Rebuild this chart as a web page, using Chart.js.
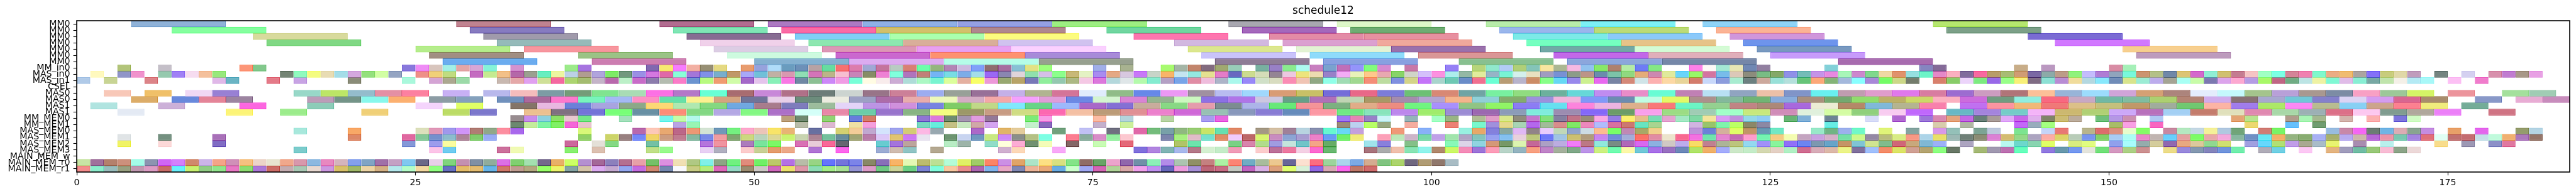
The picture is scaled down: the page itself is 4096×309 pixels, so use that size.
<!DOCTYPE html>
<html><head><meta charset="utf-8">
<style>html,body{margin:0;padding:0;background:#fff}canvas{display:block}</style>
<script src="https://cdn.jsdelivr.net/npm/chart.js@4"></script>
</head><body><canvas id="c" width="4096" height="309"></canvas>
<script>
const rowNames=["MM0","MM0","MM0","MM0","MM0","MM0","MM0","MM_in0","MAS_in0","MAS_in1","CSEL","MAS0","MAS0","MAS1","MAS1","MM_MEM0","MM_MEM1","MAS_MEM0","MAS_MEM1","MAS_MEM2","MAS_MEM3","MAIN_MEM_w","MAIN_MEM_r0","MAIN_MEM_r1"];
const durations=[7,7,7,7,7,7,7,1,1,1,1,2,2,2,2,1,1,1,1,1,1,1,1,1];
const xTicks=[0,25,50,75,100,125,150,175];
const starts0=[4,28,43,51,58,65,72,85,93,104,111,120,137];
const colors0="8fb2d8 c08390 b26c90 ac79c2 8fb0e6 95a0e3 9dee82 a8a7b0 ddf7c8 b8ecaa 7cf0f5 8fd3f7 b5e66e".split(" ");
const starts1=[7,29,44,52,59,66,76,86,94,105,112,121,138];
const colors1="85ff9f 877bc0 80e6b5 fa6ba5 d3c06b b0888e 70d6a0 a468bc 6fac73 9ab6ec bcdb77 fbb395 7ca088".split(" ");
const starts2=[13,30,45,53,60,67,78,88,95,106,113,122,144];
const colors2="d8da9d a09aab 876c92 80cff5 aaffae fcfc7e fe75ae e38ba6 e790a0 7ceae7 8bc9fa d096db 7a6bd3".split(" ");
const starts3=[14,31,46,54,61,68,81,89,96,107,114,123,146];
const colors3="80d884 95bab9 f0d1ea 8de7b0 d9ae9a d0c2ef d2b8e0 dba0d0 f0a89c 75ffc0 e6c388 6e94ec d178ff".split(" ");
const starts4=[25,33,47,55,62,69,82,90,97,108,115,124,151];
const colors4="b5ed8c f7969e dccde4 dc97b6 e8a0f0 fad1ff dce78e e3f3d4 9a71ac 72a9a6 d4fbd5 7899c0 f7cf8f".split(" ");
const starts5=[26,37,48,56,63,70,83,91,99,109,116,125,152];
const colors5="a18e82 9ac385 cdfadf ca68ce fe916f a78ad8 c9c3fb 8edbfb da9696 c268e8 e0aeba c79bfb bd9bbd".split(" ");
const starts6=[27,38,50,57,64,71,84,92,102,110,117,130];
const colors6="6bacef cc7db0 84b0d0 dcabf0 b5fde8 97a08f 8e7c96 88a0e0 88c090 8ca6dc 7587a8 a76bae".split(" ");
const starts7=[3,6,12,13,24,25,26,27,28,29,30,32,36,37,42,43,44,45,46,47,49,50,51,52,53,54,55,56,57,58,59,60,61,62,63,64,65,66,67,68,69,70,71,75,77,80,81,82,83,84,85,87,88,89,90,91,92,93,94,95,96,98,101,103,104,105,106,107,108,109,110,111,112,113,114,115,116,119,120,121,122,123,124,129,136,137,143,145,150,151];
const colors7="b2c47a c4bfc8 fc9678 82c88c 8878dc ee8cf5 d8c5bd a3efe6 e3a6a6 d8a6d6 85f3d8 d492cf 9cea8a a674e0 8168b0 f7e970 f77cff f2b0a3 978f74 e5d983 e89c6e 97a2dc b0dcf9 6a9cbe 6d90b8 b7a2a4 67dca0 f77070 dc7cac a0a8d4 c4749c b8cbc2 d88074 6dfeaa 94b57e b285b5 ccbbe0 80a0f8 8f6f70 a670a0 88c0d4 e2e284 9cff7c a0aee8 a8b290 a8fa70 a4b5a6 c2856c 826a7e a0a870 98ccb8 78b0a0 9880c6 8aeb8e adfbef c87fbf 7aa2ce c06fb8 9494fa 82fc7c d68ad0 c878a8 9580f5 b6d57a 90e8cc b2ccf5 b0cf78 84c4b8 f8e6a0 abb793 f6b9e2 92c2ee 88e868 ae816e b5eba5 6e7cf5 84e884 fc80e8 fcf9f6 a4e8d4 e8e6b4 7088b4 917fa0 82d0d8 8585c0 846a98 c8ad88 ba98c0 d88ca4 a5f0b8".split(" ");
const starts8=[1,3,4,6,7,8,9,10,15,16,17,18,19,20,21,22,23,25,26,27,29,30,31,32,33,34,35,36,37,38,39,40,41,42,43,44,45,46,47,48,49,50,51,52,53,54,55,56,57,58,59,60,61,62,63,64,65,66,67,68,69,70,71,72,73,74,75,76,77,78,79,80,81,82,83,84,85,86,87,88,89,90,91,92,93,94,95,96,97,98,99,100,101,102,103,104,105,106,107,108,109,110,111,112,113,114,115,116,117,118,119,120,121,122,123,124,125,126,127,128,129,130,131,132,133,134,135,136,137,138,139,140,141,142,143,144,145,146,147,148,149,150,151,152,153,154,155,156,157,158,159,160,161,162,163,164,165,166,167,168,169,170,171,172,174,176,178,179,180,181];
const colors8="fff9be 9095c8 f092cc 95c9ae a080f5 f6dcf0 f4c09c 98e87c 748474 90fabe f4fc80 e8dcb4 a4dde8 d4a8de 94e07c d2ffa4 94a4c2 ee9088 f0d078 c0dc80 c46cc0 c4ea90 f2c088 b468a8 9ba090 68eec0 ecf6a0 bcd0e6 b09c90 b0a4dc 7eea64 72987e 9a90e4 d478e0 e068a8 88ffd8 a476d8 8090e8 78aecc c09868 a8a8f8 70c0d8 c0b0a4 d898b0 90deb4 d474b8 bcb488 f6bfd0 c884b8 868c60 ee80d4 80ffdc b074bc c08078 74b4f4 78dce4 7cace8 a4dde8 9a68f4 8a86b0 e0d4da 90e0ac d4c0e8 8cff8c c8b878 e4f2c4 a88cf0 e4a884 d8c8e0 c878f8 c8d4c8 f8b468 c4e4f0 94e8e0 e4e090 e47cc8 6868c0 ccdc90 d4dcb8 948494 ecc8e0 ece47c ecdcb0 9880c8 f4acf5 e8f2b8 fec88c e8a8b0 88d468 d0d4c8 d4c0fa fc90e0 aceeec 94b8a4 e0ec9c 96b4c6 78f4d4 d4f0ec e8e0c0 a09cc0 7890d4 8c9c88 bc9488 6a8cac 7cc4a8 90d880 e4ac78 cc88b0 e0ea9c 68d4fb 98f868 d474a0 78bcea dcc8b8 8c8c7c 78bc84 84a868 9090e8 74bcb8 c494e8 e888e0 a8f6b8 cc88cc 80d88c f0d8a4 e0926c 96e0e0 6cf4c8 e488c8 fbb0c0 806c9c f868a0 b89c68 a8bc74 d09c74 7a68a4 8caaa8 bc9c88 90f27c c4bcfc b07cd4 90a4bc 78f8dc cc9470 b4c088 7088a8 dcc474 d468cc 90eed4 d0c070 c47c90 f5c4c4 a0ffc4 7cffe4 d48498 f080b0 80f8cc ecac84 f0bc70 aca4a0 8470f8 c8cc7c e0d8a8 c09cbc 748480 d4d0f0 d890ac c07cd0 a89888 e8a0e4".split(" ");
const starts9=[0,2,5,10,11,14,16,20,24,26,27,28,31,32,33,34,35,36,37,38,39,40,41,42,43,44,45,46,47,48,49,50,51,52,53,54,55,56,57,58,59,60,61,62,63,64,65,66,67,68,69,70,71,72,73,74,75,76,77,78,79,80,81,82,83,84,85,86,87,88,89,90,91,92,93,94,95,96,97,98,99,100,101,102,103,104,105,106,107,108,109,110,111,112,113,114,115,116,117,118,119,120,121,122,123,124,125,126,127,128,129,130,131,132,133,134,135,137,138,139,140,141,142,143,144,145,146,147,148,149,150,151,152,153,154,155,156,157,158,159,160,161,162,163,164,165,166,167,168,169,170,171,172,173,175,177];
const colors9="b0cae8 c8d494 dc8488 e0b8e8 6ab4c4 e47a88 c8a4e4 8a8c78 aaf8dc d4a4d4 aca890 9cdaa8 c8b8b0 e4a8a8 e0a0f0 cfe098 f468a0 acd470 a4bc70 c4b4c8 b868ac bcf0c8 c86cc8 8c7cac b4bcb0 fa7cc8 6c94d0 b8fa80 f09c70 d0fca8 a468c8 e4c4ec 88f0b8 f878e4 7088a4 8cc094 cc88f8 f09ce4 78ffd8 fffce4 f8ecec ccacd4 aedcd8 acf8c4 78f4d0 dcfe9c e4b0a0 f8ff68 ec98d8 98a870 b8a468 7878b8 90ee9c 94c8b0 acb884 f4c8e4 dc78dc b4d8dc dfe6e8 b4faac 84ecd0 b4a0c4 78a4e8 e08ca4 eebcdc acb4c8 aaf8ec 9888f8 d0e0c8 d8dcc0 fa8cb4 f0c4b4 90a884 90ffe8 a0dcb4 a0d890 f48e78 bcdca0 8090e0 d4d488 c474f8 a8d4cc 6ec8b4 6a8cc8 f07090 6cffd4 b89c74 b8b4cc cc8c60 88ff88 64d8f4 9888ec ccf090 e868f0 7884a4 d48878 d0e4e8 fcb0b0 fcd8a4 e8d498 d47c6c c8d8fa 8c9cdc a8ecd0 6c8080 cca89c 98e0d8 b4e0dc 64c478 fca878 84b478 a4b8dc 88ffff a888d8 74fc60 ccd888 747c6c d8806c 88cc68 ecd4fa 7cea80 9868e8 98ff88 f8f078 806c84 8ce0d4 b88cd4 f0dc9c b4d8e0 88e8fc 708cb8 d8e48c 9cecd4 bcacec a4a494 a8fff4 c8fca8 7c78b0 dca4ec fca8d0 b49ce4 a8f868 c06484 70ac84 bce4e4 eef2a4 80f8d4 e0bce8 88eed4 78a8a4 c0e4ac f4f0e8 b4eaf4 a8f8f8 fcc0f4 f07ccc".split(" ");
const starts10=[];
const colors10=[];
const starts11=[2,5,8,10,16,18,20,22,24,27,30,32,34,36,38,40,42,44,46,48,50,52,54,56,58,60,62,64,66,68,70,72,74,76,78,80,82,84,86,88,90,92,94,96,98,100,102,104,106,108,110,112,114,116,118,120,122,124,126,128,130,132,134,136,138,140,142,144,146,148,150,152,154,156,158,160,162,164,166,168,170,172,175,179,181];
const colors11="f8c8b8 f0c068 f0d8f4 9880d4 98d8c8 bce664 94bccc e490a4 fc80a0 c8b0f4 b8b8ec f4bcbc 7c9ca4 749c78 80e490 a8dcb4 fc70e4 b478c8 68ffd4 a86c70 c888d8 b07088 6c7c78 ccd4d0 987488 cc8098 9cacf0 98a098 987098 c4b0e8 b0b490 d47498 e0ecfc 90bc88 6488e8 ec98f4 a090a0 b8bcf0 a0d8fc d89c74 c8c064 746cd8 e86888 7c7cd8 6cc074 d88874 70a4a4 78f0a0 90dc80 6cb09c 64d8d8 c08cf0 e88cc8 68fcd4 c080b4 b8e0f4 90a4c0 ecc0a8 8094c8 68f0f0 c09cb0 e09ccc e078ec d87ca0 9c6cd0 cc9cc0 b07478 fcc098 98b4d8 9cdcfc d0a4d8 d4a074 ac847c e4ecfc c4f8fc a4c48c b8a0d8 a89890 7c8ca4 f8a0c4 9cc898 d4f464 ec949c a4e09c a0ccb4".split(" ");
const starts12=[4,7,9,11,17,19,21,23,26,28,31,33,35,37,39,41,43,45,47,49,51,53,55,57,59,61,63,65,67,69,71,73,75,77,79,81,83,85,87,89,91,93,95,97,99,101,103,105,107,109,111,113,115,117,119,121,123,125,127,129,131,133,135,137,139,141,143,145,147,149,151,153,155,157,159,161,163,165,167,169,171,173,177,180,182];
const colors12="dcac68 6888dc e48498 9c84a0 bc9cb8 749488 88f8ec fcb070 8c9ca4 84a0bc 7090bc ac689c fc78cc 78f4bc a4b8f4 fc90c4 64e0a8 fcf090 d4a480 707498 e8d0e8 6c8c7c ecece0 9ca0c4 ac6ca8 e8acac ecf8b8 d4acc4 f4a8a8 f4a0fc e09cd8 6c88e4 d4f4d0 d884d4 94b490 ccf8c0 8c70e4 b074e8 ccc8e0 60a088 b070b8 c0d4b4 a89860 a48cac b4a4d0 f4b48c 90d0d8 84ac6c 9c90dc f0b4dc 8098f8 6c8cb0 c0fce4 e4f860 ac908c 84b89c 70b474 88acdc a88f7c 74a870 90dc6c bcb068 ccd868 fcb0c0 cc6cdc 709c80 90eee0 f86880 c8a8c4 70b8a4 80bca0 acd070 b48474 d0acec 887074 a8a8d0 70c8d8 8480cc dcd4f4 d49cf0 d86090 a88c6c 8898c8 e8acd4 c88cbc".split(" ");
const starts13=[1,6,12,17,25,28,32,34,36,38,40,42,44,46,48,50,52,54,56,58,60,62,64,66,68,70,72,74,76,78,80,82,84,86,88,90,92,94,96,98,100,102,104,106,108,110,112,114,116,118,120,122,124,126,128,130,132,134,136,139,141,143,145,147,149,151,153,155,157,159,161,163,165,167,169,171,173,176];
const colors13="b0e4e0 ccb0d8 fc60e0 8cccb8 f4d4fc e0ff64 847468 e8b8e0 6c80d8 a8a4e0 8ca888 fcd874 b0e8b0 84d880 70a8e0 a87c8c 7e7cbc 9cbc9c e4d4f8 bc94e4 d090dc 7884e0 80cc60 c0d888 80e8fc 68d488 9cb8fc a868c8 8470d4 c8ac9c 88d884 e49cac 7c8c90 acb4e8 68e878 f49498 7cb080 e0ac88 ec8c80 70f480 a890fc 90c484 90f460 8c7cf4 60e0f0 fc84dc ecb4e0 dcb08c f87878 6cf4c4 94d090 c08484 ac8878 a868dc ececd4 b48868 80b8d8 b4b490 f880ac c070f0 fc94a0 f0b878 f07878 dcc088 c4c07c c09868 a0ac9c 70c870 fcb4a4 a07cec ace868 fc88f4 b8bc90 88d0f4 cca48c fc8090 f0ec7c 74ac98".split(" ");
const starts14=[3,11,15,21,27,29,33,35,37,39,41,43,45,47,49,51,53,55,57,59,61,63,65,67,69,71,73,75,77,79,81,83,85,87,89,91,93,95,97,99,101,103,105,107,109,111,113,115,117,119,121,123,125,127,129,131,133,135,138,140,142,144,146,148,150,152,154,156,158,160,162,164,166,168,170,172,174,178];
const colors14="e4eaf4 fcf478 9cec8c f0d078 bcdc64 7c78cc ecc090 807080 7474d8 78ff78 6890a4 fc8c78 84d884 b4a8e4 84f884 ac70c8 d4fff8 e888a8 6ccca8 9874cc 88b484 f4fc80 9c9868 c89c84 d0dc84 fc68b0 f4c0a4 bc9c78 e09094 ec80cc d068d8 98c0b4 8898bc 887cd4 648cbc fc98a4 70e884 88e4bc bc88ec a0ec6c 9c8cd4 9c68b0 8c9cb8 80ecdc 9c8cb0 8468f8 6c9c68 f8a0ec 9cdc84 a0ccb4 a0ffc8 c8e87c d08cb8 e0f0dc d4fca4 90d07c f8ccf0 c068fc 68b8c4 a484dc 74ccc8 f4b4f8 ccb870 b0d074 cca8f8 b870bc a4d0f4 c47c6c e0e0bc e088b0 a8d8a8 9cb0b4 dc7088 fcc8f0 809c90 b0a89c ec80f8 d07484".split(" ");
const starts15=[32,33,34,35,36,37,40,43,44,45,52,53,55,57,58,62,63,64,65,66,67,70,71,75,77,80,83,84,93,94,95,96,98,100,101,103,104,105,106,107,108,109,110,111,112,113,114,115,116,117,118,119,120,121,122,123,124,126,127,129,132,134,136,137,138,139,140,141,142,143,144,145,146,147,149,150,151,153,159,160,163,164,165,167,169,171,172];
const colors15="988c90 c88cec 8cd0e0 8ce064 e8c8d0 74e888 a4e0bc 74f4ec c4fca8 b4f8ec bca07c 708870 90d474 687cdc d47c68 9074d4 dc78dc 708c70 a494b0 e09ce0 947898 7ceb78 f89ce4 fcbca4 b4d4dc b8d4a4 a89cf0 e864e0 a078f4 e484b4 9880c8 ccf4f8 94b4b8 a4ffc4 98b484 b0bc94 e09cc8 d8e88c 908c7c c478cc 84e07c 8480a0 c07488 988c78 f8a8e4 947ce4 fcf070 e4c08c 78dcb4 e4a4d0 a4e8c4 80d8a4 f4e49c d89cf4 c090dc 94d8e8 90ccf4 68b474 80b0d8 6c8494 d8dcf8 b068d0 9c78d8 d888b0 e4a47c c468e4 688078 a89c98 e0a8f8 c868e8 e0b0ec 808468 ccbc74 bcac9c 70c07c b498e4 cc90b0 b0c8f4 e4a474 b8e490 b09c8c a8f4b4 a4b890 d4b4ac fcb0b0 7c74dc d0fcc4".split(" ");
const starts16=[32,33,34,35,36,37,44,45,53,55,57,58,62,63,64,65,66,67,70,71,75,77,93,94,95,96,98,101,103,104,105,106,107,108,109,110,111,112,113,114,115,116,119,120,121,122,123,124,129,137,139,143,144,145,150,151,153,160,163,165];
const colors16="6c8870 c4ec9c 80f4a4 80f060 f464d8 e8c4cc b8a4e4 98f4b4 b8bca8 dcb8d0 f0e0a4 f4a0dc 78d8c0 68ecdc c4c084 c8e8c0 d0a8a8 d4a4f0 c4f0cc 8868bc c4b0cc ccf09c 9c8c78 bcd0f0 b8ff68 98a880 f4aca0 ec8074 78f8cc a090dc e4d88c a8d4b4 b468ec a0bc98 d88c8c 80e864 ec88bc b0bcfc d870a0 cc7870 68e4c0 a8d490 d0b4e0 98c46c 80f4ac bcff64 8c8868 8c88a4 68ece4 d8ccac b0b8a4 c468f8 98acbc a4ff80 a8bc68 f8a0e4 f864c0 ecd870 64c0fc 709c70".split(" ");
const starts17=[16,20,25,26,27,28,29,30,31,32,37,41,42,43,44,45,46,47,48,49,50,51,52,54,56,57,58,59,60,61,62,63,66,68,69,72,74,76,78,79,80,81,82,83,84,85,87,88,89,90,91,92,93,94,97,99,102,103,104,105,106,107,108,109,110,111,112,113,114,115,116,119,120,121,122,123,124,125,128,129,130,131,133,135,137,138,140,141,143,145,146,148,149,150,151,152,154,155,156,157,158,159,161,162,166,167,168,169,170,171,172,173,175,177,180,181];
const colors17="a8e8dc f8a864 dce0bc e098b8 a098ec d094f8 b07c74 90a888 fc8ea0 a868ec d8f878 b868ac fcc8b8 e8a870 bc6088 ec9874 d4e4d4 7098b8 74f080 fca8cc ecc4b8 f8e468 e8b474 6870a0 d4d070 f4cc98 c0a8d0 d4e4fc a0a4ec d4cc74 fcb8e4 98a8b0 ac68c8 e0b468 e4cc9c 70a07c c0c0f4 707080 e068a8 74bc7c 78a0a8 90b880 98cc74 c8e460 60e0b0 e08860 a49884 d4c0a4 a08098 b8d4e0 8890b0 60f8d0 68d8f4 c4a0dc f09878 88b0f8 98f0e0 e8a868 8480dc 88a8a0 e0b8f4 908488 e8ccfc c0d8b8 90a4cc ccdce4 fcbc90 78ff64 c088b4 a8a860 f0d08c bc94d8 6c80d8 d4b09c e0fc68 c09464 6898b4 70e8c4 98e8c8 70b484 9cb0ec 70f8c8 e0f478 84a4a0 d898e8 94c0b8 7ca494 bcc8dc 7ce490 c4d4f8 e87874 b8b48c dc6c6c dc9080 e8fccc 84fc60 c888a0 b4e8c0 c4d8e4 f4f098 b0c8e0 70a478 d07c74 78f460 98bce0 c888a8 f464f4 6c7c74 70b4e4 dcacb4 88a490 c48ce0 e8a068 e464ec 949c6c b4d4e4".split(" ");
const starts18=[3,6,10,20,24,25,26,27,28,29,30,37,39,40,41,42,43,44,45,46,47,48,49,50,51,52,53,54,55,56,57,58,59,60,61,62,64,65,66,67,68,69,70,71,73,74,75,76,77,80,81,82,83,84,85,86,87,88,89,90,91,92,93,94,96,97,98,99,100,101,102,103,104,105,106,107,108,109,110,111,112,113,114,115,116,117,118,119,120,121,122,123,124,125,126,127,128,129,130,131,132,133,134,135,136,137,138,139,140,141,142,143,144,145,146,147,148,149,150,151,152,153,154,155,156,157,158,159,160,161,162,163,164,165,166,167,168,169,170,171,172,173,174,175,176,177,178,179,180,181];
const colors18="e0e4e6 749080 a870b8 dc8868 e068a0 84c898 7490cc 8cbccc ac8498 80cc6c 98acf4 90d060 ccd468 988080 7488f8 f0d464 cc9c80 c07c90 84b8a0 7888e8 f09ca0 80a470 ccd880 b8d4bc dcd894 c8f470 c8d4b0 ac8494 74c09c 688c9c a0a474 b87ca8 dcc8f8 e0c470 cc78f4 e8e4f0 6c9470 c8d4f0 7098c0 c8e880 cc88f8 8a8e8a b4c084 7cffe4 fc7c90 88ac9c d88cc8 94f0a0 fcc8d0 7c84ac a8f080 e0bcc8 74e0cc e08c60 f0ccfc bc6068 d8f470 c88cc0 8ca4d4 a89cd0 ec80c8 689cf4 70f068 f0ec78 fca0b8 bce8b8 ccb4c8 78d8a8 c0a0e8 a0e4ac b0a4c4 84c4bc 98a0f0 84c0f0 e8d0dc bcc87c 6c78f8 a0c4e4 ccc070 b09c7c c884f0 708cd8 a4acd8 fc7064 e08ca4 ece4cc f86890 f470e0 70e4ac e484d0 c468b4 fc9ccc 74f4b0 f4cc84 f4fcb0 c4a4c0 c8a0e0 d4b0c8 74e0a4 ccf88c 9488a4 b8bc7c d8ec84 f89884 acd4e8 e8e068 9cb8b4 708078 8c8c74 dc80d4 d4bc70 94d888 aca4c0 fcaca4 dcd464 b8ccb8 7894f0 80d068 a8ccf4 acfcf4 e888c8 c0b4b0 68d0fc e4a0a0 7cfc64 e8a8a8 f4a8dc 88b8a0 7090c4 60e8f4 f4b068 94b480 88ac70 a8b0f4 a8b06c b8acf0 ccb8ac b868d8 ec94a8 78c8b0 a484e0 e07078 e0fff4 c07070 c46c70 c4e0e8 c0fadc f0b070 ac78bc 947468".split(" ");
const starts19=[3,6,10,24,26,27,36,38,39,42,46,47,49,50,51,53,54,55,56,59,60,61,64,65,67,68,69,70,71,73,75,77,81,82,85,86,87,88,89,90,91,92,95,96,98,101,102,103,104,105,106,107,108,109,110,111,112,113,114,115,116,117,118,119,120,121,122,123,124,125,126,127,128,129,130,131,132,133,134,135,136,137,139,142,143,144,145,147,148,150,151,152,153,154,155,156,157,158,160,161,162,163,164,165,166,168,170,174,176,178,179];
const colors19="f0f35c fcd8d8 806cc4 8498d8 9c9cec fbfca0 cc689c e4e0d8 84d884 74c0a4 b474dc f094a0 ac7cbc 78e49c 7cf858 d870b4 e8ccd8 f86898 606470 68ccd0 a474dc bca49c b8ecc4 9cb4a8 90dcc8 ffffdc fcacd4 709070 f4fcb8 846464 c8fcb4 e46878 b0c468 6ce4ac 78d084 d884ac b0dc8c a09ce0 c4e4dc 70c4c8 f4a488 64ac64 a0e4ec 8880dc 84c088 88f8b8 dcd4e8 90d4e0 d49878 769864 dcf4b0 c46898 aca0c4 bcace0 f07cf8 bc7884 90e8dc 788c84 b068b8 d868f0 8cb0e0 d0c8c4 bcacec f8dc64 c08090 acb498 bcc47c 94d8f0 a090f8 88f49c 9070f8 6c84f0 7c98b0 64a4c8 c49464 80c4d4 d0e490 80bc8c d06478 c8a87c 80b8d4 9cb0f8 aca4c0 b8f8f0 6cd8cc 88d4b0 e0ff64 d8ec80 e0fc80 90a0ec a8fcfc 94acac d4cc9c 9068b0 e8a880 dcc89c 90d890 d0e070 a0a0e0 60d8fc b0e074 c09ce8 a8a890 a8bcc8 e8f470 a88cb0 b8f0ec f8dc8c 9c98b4 8c90c8 e078a0".split(" ");
const starts20=[16,26,27,31,32,36,38,42,43,46,47,49,50,51,52,54,56,59,60,61,63,68,69,72,78,79,80,81,82,83,84,85,87,88,89,90,91,92,95,96,97,98,99,100,101,102,103,104,105,106,107,108,109,110,111,112,113,114,115,116,117,118,119,120,121,122,123,124,125,126,127,128,129,130,131,132,133,134,135,136,137,138,140,141,142,143,145,146,147,148,149,150,151,152,154,155,156,157,158,159,161,162,164,166,167,168,169,170,171,172];
const colors20="7ccccc fcc4e8 70ccf0 cc709c f0fab4 88f070 dcc0b0 c0e088 98fa8c e8d0f4 b0b0c0 fccccc c8d094 e49c6c eca888 b074d4 fc64ec 9cacd4 d0bcb0 90c4c4 b4a890 d0b0d0 fcd8b8 f8a8f8 8070dc b084e0 80b4b4 a8b8ec b47888 d4f0d0 c4ecc8 f09cb8 fccccc bc7098 ec78a0 f4d0e4 fc68d0 68b870 a8747c aaacac f0c0ac 88e4b4 90f4ec b0886c ccf860 f48cb8 9c74d8 fc9cb8 b8d4c8 94b4c0 f8a080 c084c8 a4b09c 80a888 bc94e8 ccf080 70fcb0 fcf8a8 70c8d8 a870e8 9870c0 6c88b8 b0e468 f0b068 a4acfc cce8c8 c4ecc8 d4d8b0 e4d0c4 b0f0c4 d06c90 d8acb8 dcb8a8 ecf488 80709c a0c0fc f48c68 dce464 d0a094 b4a470 8cff80 687864 a4b874 a098b0 bc70b0 64ffbc 9078e0 6898ac 7498f0 e4e4dc 70e078 d498c0 acd084 cc9090 ecdc88 9888dc 8498b0 8484bc 7094dc 70eeac b0acb8 70d0e4 fcc8f4 e4b480 a09cbc 70bca4 98c878 f8bcd4 8ca488 ecd8d8".split(" ");
const starts21=[];
const colors21=[];
const starts22=[0,1,2,3,4,5,6,7,8,9,10,11,12,13,14,15,16,17,18,19,20,21,22,23,24,25,26,27,28,29,30,31,32,33,34,35,36,37,38,39,40,41,42,43,44,45,46,47,48,49,50,51,52,53,54,55,56,57,58,59,60,61,62,63,64,65,66,67,68,69,70,71,72,73,74,75,76,77,78,79,80,81,82,83,84,85,86,87,88,89,90,91,92,93,94,95,96,97,98,99,100,101];
const colors22="c8e4a4 a0709c b4806c cc907c a4fce8 8c94b0 d060f4 d480fc d0886c ccb4e8 f4a488 d090b8 f6c080 ecd4c8 e8e4d0 f0a88c d898ac 8cb8e0 e888c0 d4b4bc 84a0ec 80a4c4 a070a8 c4a0c4 80c8f0 6c6888 e8d0e8 80d47c c490b0 8090a4 90ac9c dc70e4 80d070 a4e0b0 74688c e8b068 ccff60 b490d0 a46898 8c80bc b47090 e8a0a8 74c068 dc90e0 f0dfb4 b0c884 80f0e8 8ca484 70f080 e08c7c 70f064 bcc868 b470e4 b8bca8 98d484 6474fc 7474dc 7c84e8 888860 8870b8 f8b468 e4f8b4 bcbc6c bce094 b4fcd8 e0f060 a0cc68 fc8464 cc90e4 e0a468 ace4c8 fce084 d8e080 84e488 906c60 68a464 eca4cc 9064ac 7090a8 8cf0b8 b48ce8 acc4b0 909060 c48080 acf0a4 fc8474 70acc4 a8bc9c ecc890 686498 fce0d0 fc6c80 9cd49c acd4ec 7caae4 d4ac90 80c480 acd46c 706880 b09c74 90786c a8bcc4".split(" ");
const starts23=[0,1,2,3,4,5,6,7,8,9,10,11,12,13,14,15,16,17,18,19,20,21,22,23,24,25,26,27,28,29,30,31,32,33,34,35,36,37,38,39,40,41,42,43,44,45,46,47,48,49,50,51,52,53,54,55,56,57,58,59,60,61,62,63,64,65,66,67,68,69,70,71,72,73,74,75,76,77,78,79,80,81,82,83,84,85,86,87,88,89,90,91,92,93,94,95];
const colors23="f48c8c 8ceccc 98bcbc 98a080 c098b0 dc9cc4 c86c60 68f0fc c8f070 90cc84 90e48c e878c4 8cdc70 ac78d8 cc6c64 c4acb0 a8c8b4 e8d8d0 cc98e0 d8c068 a0b868 ecd4a4 d4b084 b4e8ec b4fcc8 f4d8a0 90ff80 6470c0 e4bc68 e4bc70 64b4e8 d07868 c09c90 b4a880 98ff68 ecf46c 84a4a4 d4c4a8 dcacf0 c4a8d0 94a8f0 c46ce0 d08870 7488b0 f8f8fc c8cc84 b4ec7c dc68b8 94d8c4 9c8c70 ccc8c4 d068bc ece06c dc98a8 8cdcb4 a4ec88 a8e094 9494d4 dc9cc8 70c884 ccd498 6cd084 7c84d4 80fcdc f8c8a0 e88c8c ac64b0 80b4ec e8a8c4 8088b4 ecb498 e8a878 68ace4 ccffcc a0a8f4 d464b4 b0d498 d8a8a8 f0a0ec c090f0 6868bc ec9cdc a890d8 bc6078 c86c84 c4c8c0 c064c0 d8b0e4 dca07c e0ff70 d8f0d8 9068e4 d8a8b4 fc68ec c07868 d06c6c".split(" ");

const allStarts=[starts0,starts1,starts2,starts3,starts4,starts5,starts6,starts7,starts8,starts9,starts10,starts11,starts12,starts13,starts14,starts15,starts16,starts17,starts18,starts19,starts20,starts21,starts22,starts23];
const allColors=[colors0,colors1,colors2,colors3,colors4,colors5,colors6,colors7,colors8,colors9,colors10,colors11,colors12,colors13,colors14,colors15,colors16,colors17,colors18,colors19,colors20,colors21,colors22,colors23];

function rgba(hex,a){
  const v=[0,2,4].map(i=>parseInt(hex.substr(i,2),16));
  const c=v.map(x=>Math.max(0,Math.min(255,Math.round((x-102)/0.6))));
  return `rgba(${c[0]},${c[1]},${c[2]},${a})`;
}
const datasets=rowNames.map((name,i)=>({
  label:name+" "+i,
  data:allStarts[i].map(s=>({x:[s,s+durations[i]],y:i})),
  backgroundColor:allColors[i].map(h=>rgba(h,0.6)),
  borderColor:allColors[i].map(h=>rgba(h,0.78)),
  borderWidth:1.3,borderSkipped:false,grouped:false,barPercentage:1.06,categoryPercentage:1
}));
const frame={id:"frame",afterDraw(ch){const a=ch.chartArea,c=ch.ctx;c.save();c.strokeStyle="#000";c.lineWidth=1.6;c.strokeRect(a.left,a.top,a.right-a.left,a.bottom-a.top);c.restore();}};
const fontFamily="'DejaVu Sans'";
new Chart(document.getElementById("c"),{
  type:"bar",
  data:{datasets},
  plugins:[frame],
  options:{
    indexAxis:"y",responsive:false,animation:false,devicePixelRatio:1,
    layout:{padding:{left:0,right:10,top:0,bottom:0}},
    plugins:{legend:{display:false},tooltip:{enabled:false},
      title:{display:true,text:"schedule12",color:"#000",fullSize:false,font:{family:fontFamily,size:17,weight:"normal",lineHeight:1.2},padding:{top:7,bottom:5.6}}},
    scales:{
      x:{type:"linear",position:"bottom",min:0,max:184,
        afterBuildTicks(s){s.ticks=xTicks.map(v=>({value:v}));},
        afterFit(s){s.height=35;},
        border:{display:false},
        grid:{drawOnChartArea:false,drawTicks:true,tickLength:5.4,tickWidth:1.1,tickColor:"#000",offset:false},
        ticks:{color:"#000",padding:3,maxRotation:0,autoSkip:false,font:{family:fontFamily,size:14.16}}},
      y:{type:"linear",position:"left",min:-0.5,max:23.5,reverse:true,offset:false,
        afterBuildTicks(s){s.ticks=rowNames.map((_,i)=>({value:i}));},
        afterFit(s){s.width=122;},
        border:{display:false},
        grid:{drawOnChartArea:false,drawTicks:true,tickLength:5.4,tickWidth:1.1,tickColor:"#000",offset:false},
        ticks:{color:"#000",padding:5,autoSkip:false,font:{family:fontFamily,size:14.16},callback:v=>rowNames[v]}}
    }
  }
});
</script></body></html>
